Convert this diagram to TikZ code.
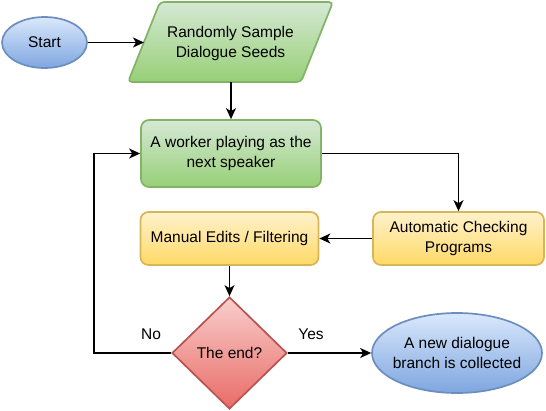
\documentclass[tikz,border=0pt]{standalone}
\usepackage{fontspec}
\setmainfont{Liberation Sans}
\usetikzlibrary{shapes.geometric,arrows.meta}
\definecolor{blueTop}{HTML}{DAE8FC}
\definecolor{blueBot}{HTML}{7EA6E0}
\definecolor{blueLine}{HTML}{6C8EBF}
\definecolor{greenTop}{HTML}{D5E8D4}
\definecolor{greenBot}{HTML}{97D077}
\definecolor{greenLine}{HTML}{82B366}
\definecolor{yelTop}{HTML}{FFF2CC}
\definecolor{yelBot}{HTML}{FFD966}
\definecolor{yelLine}{HTML}{D6B656}
\definecolor{redTop}{HTML}{F8CECC}
\definecolor{redBot}{HTML}{EA6B66}
\definecolor{redLine}{HTML}{B85450}
\tikzset{
  bluefill/.style={draw=blueLine, line width=1.7pt, top color=blueTop, bottom color=blueBot},
  greenfill/.style={draw=greenLine, line width=1.7pt, top color=greenTop, bottom color=greenBot},
  yelfill/.style={draw=yelLine, line width=1.7pt, top color=yelTop, bottom color=yelBot},
  redfill/.style={draw=redLine, line width=1.7pt, top color=redTop, bottom color=redBot},
  roundbox/.style={rectangle, rounded corners=8pt, inner sep=0pt, align=center},
  ovalnode/.style={ellipse, inner xsep=-14pt, inner ysep=0pt, align=center},
  conn/.style={line width=1.4pt, -{Stealth[length=11pt,width=10pt,inset=3pt]}},
  lbl/.style={inner sep=0pt}
}
\begin{document}
\begin{tikzpicture}[x=1pt,y=-1pt,font=\fontsize{15.5}{20}\selectfont]
\useasboundingbox (0,0) rectangle (546,410);

% parallelogram
\shade[greenfill, rounded corners=4pt] (160,2) -- (333,2) -- (301,82) -- (128,82) -- cycle;
\node[lbl, align=center] (seeds) at (230.5,43) {Randomly Sample\\Dialogue Seeds};
\coordinate (seedsL) at (144,42.5);
\coordinate (seedsB) at (231,82);

\node[ovalnode, bluefill, minimum width=85pt, minimum height=51pt] (start) at (44.5,42.5) {Start};
\node[roundbox, greenfill, minimum width=180pt, minimum height=67pt] (worker) at (231,153.5) {A worker playing as the\\next speaker};
\node[roundbox, yelfill, minimum width=171pt, minimum height=53pt] (auto) at (458.5,238.5) {Automatic Checking\\Programs};
\node[roundbox, yelfill, minimum width=178pt, minimum height=53pt] (manual) at (229.5,238.5) {Manual Edits / Filtering};
\node[diamond, redfill, inner sep=0pt, minimum width=115pt, minimum height=112pt] (dia) at (229.5,353) {The end?};
\node[ovalnode, bluefill, minimum width=170pt, minimum height=80pt] (coll) at (457,353) {A new dialogue\\branch is collected};

\coordinate (loop) at (94,353);
\node[lbl] (no) at (151,334) {No};
\node[lbl] (yes) at (311,334) {Yes};

\draw[conn] (start.east) -- (seedsL);
\draw[conn] (seedsB) -- (worker.north);
\draw[conn] (worker.east) -| (auto.north);
\draw[conn] (auto.west) -- (manual.east);
\draw[conn] (manual.south) -- (dia.north);
\draw[conn] (dia.west) -- (loop) |- (worker.west);
\draw[conn] (dia.east) -- (coll.west);
\end{tikzpicture}
\end{document}
